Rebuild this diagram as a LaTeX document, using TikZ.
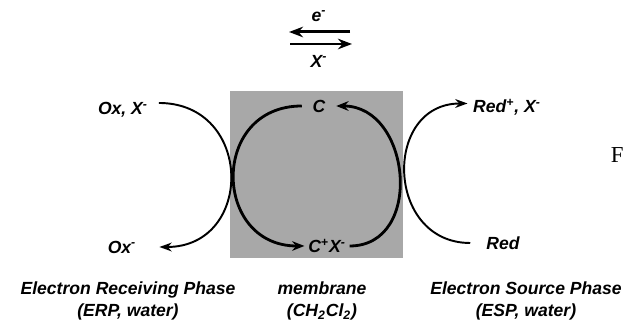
\documentclass[tikz,border=0pt]{standalone}
\usepackage{fontspec}
\setmainfont{Liberation Sans}
\newfontfamily\capfont{Liberation Serif}
\usetikzlibrary{arrows.meta}

\definecolor{membF}{HTML}{A8A8A8}

\begin{document}
\begin{tikzpicture}[x=0.02cm, y=-0.02cm,
  lbl/.style={font=\fontsize{10}{13}\selectfont\bfseries\itshape, inner sep=1pt},
  cyc/.style={line width=1.6pt, -{Stealth[length=7pt,width=5.5pt]}},
  phase/.style={line width=1.1pt, -{Stealth[length=7pt,width=5pt]}},
  xfer/.style={line width=1.7pt, -{Stealth[length=8pt,width=6pt]}},
]
\useasboundingbox (0,0) rectangle (625,323);

% membrane slab (drawn first = behind)
\fill[membF] (230,91) rectangle (403,258);

% electron / anion transfer above the membrane
\node[lbl] (elec) at (319,16) {e\textsuperscript{-}};
\node[lbl] (anion) at (319,61) {X\textsuperscript{-}};
\coordinate (eR) at (350,32);
\coordinate (eL) at (289,32);
\coordinate (xL) at (290,44);
\coordinate (xR) at (352,44);
\draw[xfer] (eR) -- (eL);
\draw[xfer] (xL) -- (xR);

% --- carrier cycle inside the membrane ---
\node[lbl, inner sep=6pt] (C) at (319,106) {C};
\node[lbl, inner sep=2pt] (CX) at (327,246) {C\textsuperscript{+}X\textsuperscript{-}};
\draw[cyc] (C.west) .. controls +(-92,0) and +(-92,0) .. (CX.west);
\draw[cyc] (CX.east) .. controls +(75,0) and +(75,0) .. (C.east);

% --- electron receiving side ---
\node[lbl] (oxx) at (123,110) {Ox, X\textsuperscript{-}};
\node[lbl] (ox) at (122,247) {Ox\textsuperscript{-}};
\draw[phase] ([xshift=5pt,yshift=4pt]oxx.east) .. controls +(95,0) and +(95,0) .. ([xshift=12pt]ox.east);

% --- electron source side ---
\node[lbl] (red) at (503,243) {Red};
\node[lbl] (redp) at (507,107) {Red\textsuperscript{+}, X\textsuperscript{-}};
\draw[phase] ([xshift=-8pt]red.west) .. controls +(-85,0) and +(-85,0) .. ([xshift=-2pt,yshift=2pt]redp.west);

% phase captions
\node[lbl, align=center] (erp) at (128,301) {Electron Receiving Phase\\(ERP, water)};
\node[lbl, align=center] (memb) at (322,301) {membrane\\(CH\textsubscript{2}Cl\textsubscript{2})};
\node[lbl, align=center] (esp) at (526,301) {Electron Source Phase\\(ESP, water)};

% caption letter at the right edge
\node[font=\capfont\fontsize{13}{15}\selectfont, anchor=east, inner sep=0pt] (fig) at (624,155) {F};
\end{tikzpicture}
\end{document}
